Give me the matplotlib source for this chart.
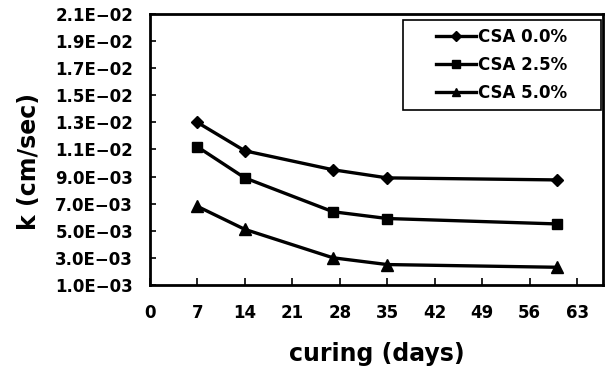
import numpy as np
import matplotlib.pyplot as plt
from matplotlib.ticker import FuncFormatter
from matplotlib.patches import Rectangle

plt.rcParams['font.family'] = ['DejaVu Sans']
plt.rcParams['font.weight'] = 'bold'

days = [7, 14, 27, 35, 60]
csa_00 = [0.0130, 0.0109, 0.0095, 0.0089, 0.00875]
csa_25 = [0.0112, 0.0089, 0.0064, 0.0059, 0.0055]
csa_50 = [0.0068, 0.0051, 0.0030, 0.0025, 0.0023]
labels = ["CSA 0.0%", "CSA 2.5%", "CSA 5.0%"]

fig = plt.figure(figsize=(6.09, 3.69), dpi=100)
ax = fig.add_axes([0.246, 0.228, 0.744, 0.734])

ax.plot(days, csa_00, color="black", lw=2.4, marker="D", ms=6.5, label=labels[0])
ax.plot(days, csa_25, color="black", lw=2.4, marker="s", ms=7, label=labels[1])
ax.plot(days, csa_50, color="black", lw=2.4, marker="^", ms=8, label=labels[2])

ax.set_xlim(0, 66.8)
ax.set_ylim(0.001, 0.021)
ax.set_xticks(np.arange(0, 64, 7))
ax.set_yticks(np.arange(0.001, 0.0211, 0.002))

def sci(v, pos):
    s = "%.1E" % v
    return s.replace("-", "\u2212")
ax.yaxis.set_major_formatter(FuncFormatter(sci))

ax.tick_params(axis="y", direction="in", length=4, width=1.2, labelsize=12, pad=12)
ax.tick_params(axis="x", direction="in", length=5, width=1.2, labelsize=12, pad=14)
for lab in ax.get_xticklabels() + ax.get_yticklabels():
    lab.set_fontweight("bold")
for sp in ax.spines.values():
    sp.set_linewidth(2)

ax.set_xlabel("curing (days)", fontsize=17, fontweight="bold", labelpad=14)
ax.set_ylabel("k (cm/sec)", fontsize=17, fontweight="bold", labelpad=10)
ax.yaxis.label.set_y(0.455)

# legend frame drawn as a box, legend content centred in it
ax.add_patch(Rectangle((0.558, 0.646), 0.438, 0.332, transform=ax.transAxes,
                       fill=False, edgecolor="black", lw=1.2, zorder=5))
leg = ax.legend(loc="center", bbox_to_anchor=(0.777, 0.812), fontsize=12,
                frameon=False, handlelength=2.4, handletextpad=0.1,
                labelspacing=0.6, markerscale=0.8)
for t in leg.get_texts():
    t.set_fontweight("bold")

plt.savefig("out.png", dpi=100)
